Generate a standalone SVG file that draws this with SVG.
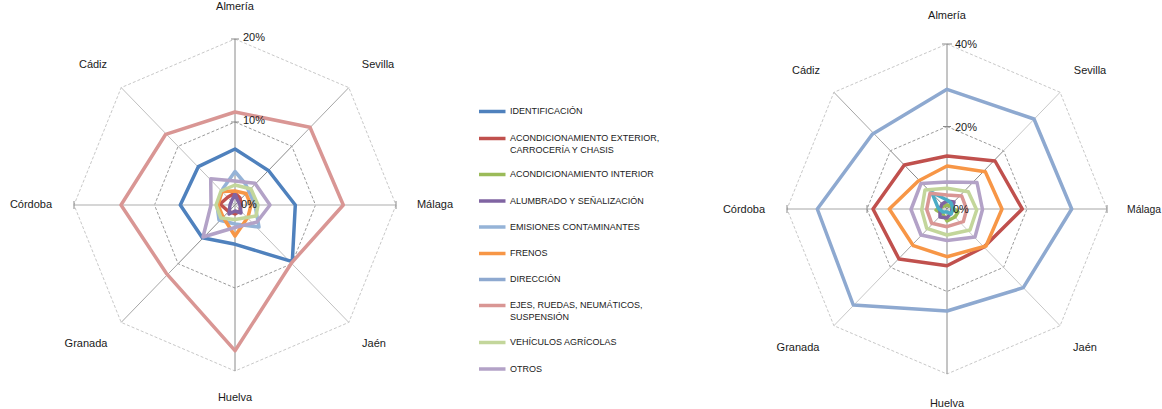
<svg xmlns="http://www.w3.org/2000/svg" width="1162" height="409" viewBox="0 0 1162 409">
<style>
text{font-family:"Liberation Sans",Arial,sans-serif;fill:#1a1a1a}
.lbl{font-size:11px;text-anchor:middle;dominant-baseline:central}
.val{font-size:11px;dominant-baseline:central}
.leg{font-size:9px;dominant-baseline:central}
.gout{fill:none;stroke:#c8c8c8;stroke-width:1;stroke-dasharray:3 2}
.gmid{fill:none;stroke:#9a9a9a;stroke-width:1;stroke-dasharray:3 2}
.ax{stroke:#a6a6a6;stroke-width:1}
.axi{stroke:#8a8a8a;stroke-width:1}
.tk{stroke:#8a8a8a;stroke-width:1}
.s{fill:none;stroke-width:3.5;stroke-linejoin:round}
.s1{stroke:#4f81bd}.s2{stroke:#c0504d}.s3{stroke:#9bbb59}.s4{stroke:#8064a2}
.s5{stroke:#95b3d7}.s5b{stroke:#4bacc6}.s6{stroke:#f79646}.s7{stroke:#8ea9d0}
.s8{stroke:#d99694}.s9{stroke:#c3d69b}.s10{stroke:#b3a2c7}
.ll{stroke-width:3.5}
</style>

<g id="chart-left">
  <g id="grid-left">
    <polygon class="gout" points="235,39 348.8,87.6 396,205 348.8,322.4 235,371 121.2,322.4 74,205 121.2,87.6"/>
    <polygon class="gmid" points="235,122 291.9,146.3 315.5,205 291.9,263.7 235,288 178.1,263.7 154.5,205 178.1,146.3"/>
    <line class="axi" x1="235" y1="205" x2="235" y2="39"/>
    <line class="ax" x1="235" y1="205" x2="74" y2="205" style="stroke:#c8c8c8;stroke-width:1.5"/>
    <line class="ax" x1="235" y1="205" x2="396" y2="205" style="stroke:#c8c8c8;stroke-width:1.5"/>
    <line class="axi" x1="235" y1="205" x2="235" y2="371"/>
    <line class="axi" x1="235" y1="205" x2="291.9" y2="146.3"/>
    <line class="ax" x1="291.9" y1="146.3" x2="348.8" y2="87.6"/>
    <line class="axi" x1="235" y1="205" x2="178.1" y2="263.7"/>
    <line class="ax" x1="178.1" y1="263.7" x2="121.2" y2="322.4"/>
    <line class="ax" x1="235" y1="205" x2="121.2" y2="87.6" style="stroke:#c0c0c0"/>
    <line class="ax" x1="235" y1="205" x2="348.8" y2="322.4" style="stroke:#c0c0c0"/>
    <line class="tk" x1="231" y1="39" x2="239" y2="39"/>
    <line class="tk" x1="231" y1="122" x2="239" y2="122"/>
    <line class="tk" x1="74" y1="201" x2="74" y2="209"/>
    <line class="tk" x1="396" y1="201" x2="396" y2="209"/>
  </g>
  <g id="series-left">
    <polygon class="s s1" points="235,149 268.7,170.7 295.3,205 292.3,261.7 235.3,244.3 202.3,237.7 180.3,205 198.3,166.7"/>
    <polygon class="s s2" points="235,193 240,198 241,205 240,211 235,214 228,211 220,204 228,197"/>
    <polygon class="s s4" points="235,194 238,201 240,205 241,213 235,211 229,214 230,205 232,200"/>
    <polygon class="s s5" points="235,171.5 245.5,184 255,205 259,227 235,224 219,220 217,205 223,188.5"/>
    <polygon class="s s6" points="235,191 246,193.5 251,205 248,217 235,236 223,217 218,205 222,191.5"/>
    <polygon class="s s8" points="235,112 310,127.3 343.3,205 292,262.3 235,350.7 166.3,273.3 121,205 165.7,134.3"/>
    <polygon class="s s9" points="235,185 251,189 258,205 256,216 235,219.5 221,218 216,205 221,191"/>
    <polygon class="s s10" points="235,181 255,183.3 270,205 257,222 235,227.5 203,237 211,205 210.7,178.7"/>
  </g>
  <g id="labels-left">
    <text class="lbl" x="235" y="5.5">Almería</text>
    <text class="lbl" x="93" y="64">Cádiz</text>
    <text class="lbl" x="378" y="64">Sevilla</text>
    <text class="lbl" x="31" y="204">Córdoba</text>
    <text class="lbl" x="435" y="204">Málaga</text>
    <text class="lbl" x="86" y="343">Granada</text>
    <text class="lbl" x="374" y="343">Jaén</text>
    <text class="lbl" x="235" y="397">Huelva</text>
    <text class="val" x="243" y="37">20%</text>
    <text class="val" x="243" y="120">10%</text>
    <text class="val" x="241" y="204">0%</text>
  </g>
</g>

<g id="legend">
  <line class="ll s1" x1="479" y1="111.5" x2="505.5" y2="111.5"/>
  <text class="leg" x="510" y="111">IDENTIFICACIÓN</text>
  <line class="ll s2" x1="479" y1="138.5" x2="505.5" y2="138.5"/>
  <text class="leg" x="510" y="138">ACONDICIONAMIENTO EXTERIOR,</text>
  <text class="leg" x="510" y="149.5">CARROCERÍA Y CHASIS</text>
  <line class="ll s3" x1="479" y1="174.5" x2="505.5" y2="174.5"/>
  <text class="leg" x="510" y="174">ACONDICIONAMIENTO INTERIOR</text>
  <line class="ll s4" x1="479" y1="201" x2="505.5" y2="201"/>
  <text class="leg" x="510" y="200.5">ALUMBRADO Y SEÑALIZACIÓN</text>
  <line class="ll s5" x1="479" y1="227" x2="505.5" y2="227"/>
  <text class="leg" x="510" y="226.5">EMISIONES CONTAMINANTES</text>
  <line class="ll s6" x1="479" y1="253.5" x2="505.5" y2="253.5"/>
  <text class="leg" x="510" y="253">FRENOS</text>
  <line class="ll s7" x1="479" y1="279.5" x2="505.5" y2="279.5"/>
  <text class="leg" x="510" y="279">DIRECCIÓN</text>
  <line class="ll s8" x1="479" y1="305.5" x2="505.5" y2="305.5"/>
  <text class="leg" x="510" y="305">EJES, RUEDAS, NEUMÁTICOS,</text>
  <text class="leg" x="510" y="316.5">SUSPENSIÓN</text>
  <line class="ll s9" x1="479" y1="342.5" x2="505.5" y2="342.5"/>
  <text class="leg" x="510" y="342">VEHÍCULOS AGRÍCOLAS</text>
  <line class="ll s10" x1="479" y1="369" x2="505.5" y2="369"/>
  <text class="leg" x="510" y="368.5">OTROS</text>
</g>

<g id="chart-right">
  <g id="grid-right">
    <polygon class="gout" points="947,44 1060.1,92.3 1107,209 1060.1,325.7 947,374 833.9,325.7 787,209 833.9,92.3"/>
    <polygon class="gmid" points="947,126.5 1003.6,150.7 1027,209 1003.6,267.3 947,291.5 890.4,267.3 867,209 890.4,150.7"/>
    <line class="axi" x1="947" y1="209" x2="947" y2="44"/>
    <line class="ax" x1="947" y1="209" x2="787" y2="209"/>
    <line class="ax" x1="947" y1="209" x2="1107" y2="209"/>
    <line class="axi" x1="947" y1="209" x2="947" y2="374"/>
    <line class="axi" x1="947" y1="209" x2="1003.6" y2="150.7"/>
    <line class="ax" x1="1003.6" y1="150.7" x2="1060.1" y2="92.3" style="stroke:#c8c8c8"/>
    <line class="axi" x1="947" y1="209" x2="890.4" y2="150.7"/>
    <line class="ax" x1="890.4" y1="150.7" x2="833.9" y2="92.3"/>
    <line class="ax" x1="947" y1="209" x2="890.4" y2="267.3"/>
    <line class="ax" x1="890.4" y1="267.3" x2="833.9" y2="325.7" style="stroke:#c8c8c8"/>
    <line class="ax" x1="947" y1="209" x2="1060.1" y2="325.7" style="stroke:#c8c8c8"/>
    <line class="tk" x1="942" y1="44" x2="952" y2="44"/>
    <line class="tk" x1="943" y1="126.5" x2="951" y2="126.5"/>
    <line class="tk" x1="787" y1="205" x2="787" y2="213"/>
    <line class="tk" x1="1107" y1="205" x2="1107" y2="213"/>
    <line class="tk" x1="867" y1="205" x2="867" y2="213"/>
  </g>
  <g id="series-right">
    <polygon class="s s2" points="947,156 995,161 1022.3,209 984,247 947,265.7 899,259 873,209 904.3,165"/>
    <polygon class="s s3" points="947,205 950,206 958,212 955,217 947,221 943,214 936,210 944,206"/>
    <polygon class="s s4" points="947,201 954,202 952,209 951,213 947,218 940,217 940,209 942,204"/>
    <polygon class="s s5b" points="947,200 951,203 953.3,209.3 951,214 947,212 943,212 938.3,208.3 931.7,192.3"/>
    <polygon class="s s6" points="947,166 985.3,171.7 1002,209 986,246 947,256.7 913.3,245.7 889.3,209 918.3,181"/>
    <polygon class="s s7" points="947,89.3 1034,119 1071.7,209 1023.3,287.7 947,311 853.3,305 817.3,209 872.3,134.3"/>
    <polygon class="s s8" points="947,195 961.7,196 966.7,209.3 963.3,221.7 947,226.7 931.7,223.3 926.7,209.3 930,193.3"/>
    <polygon class="s s9" points="947,188.3 968.3,191.7 976.7,210 970,230 947,235 926.7,228.3 921.7,210 925,190"/>
    <polygon class="s s10" points="947,182 977,182.5 982.5,209.5 975,237 947,240.5 921,235 911,209.5 921,183.5"/>
  </g>
  <g id="labels-right">
    <text class="lbl" x="947" y="15">Almería</text>
    <text class="lbl" x="806" y="70">Cádiz</text>
    <text class="lbl" x="1090" y="70">Sevilla</text>
    <text class="lbl" x="744" y="209">Córdoba</text>
    <text class="val" x="1127" y="209" textLength="34" lengthAdjust="spacingAndGlyphs">Málaga</text>
    <text class="lbl" x="798" y="347">Granada</text>
    <text class="lbl" x="1085" y="347">Jaén</text>
    <text class="lbl" x="947" y="403">Huelva</text>
    <text class="val" x="955" y="44">40%</text>
    <text class="val" x="955" y="126.5">20%</text>
    <text class="val" x="953" y="209">0%</text>
  </g>
</g>
</svg>
